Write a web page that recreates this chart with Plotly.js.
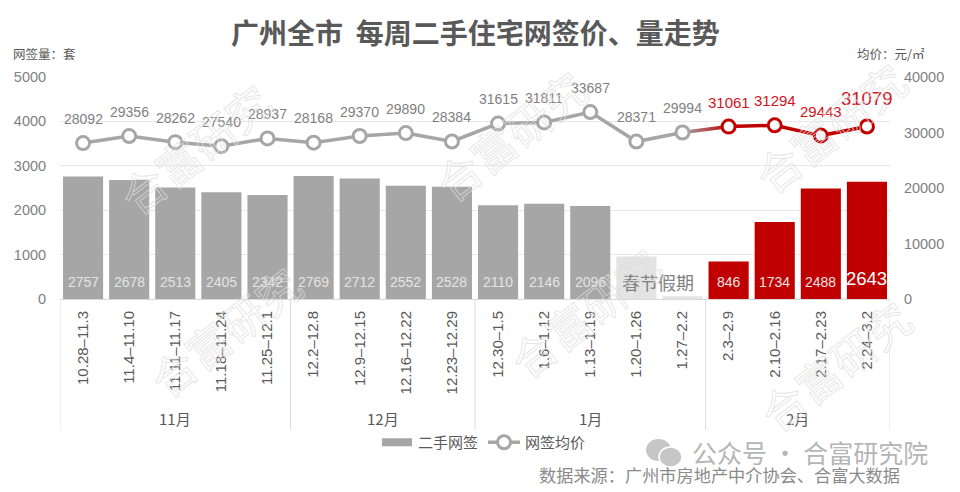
<!DOCTYPE html>
<html><head><meta charset="utf-8">
<script src="https://cdn.plot.ly/plotly-3.0.1.min.js"></script>
<style>html,body{margin:0;padding:0;background:#fff}#c{width:960px;height:492px}</style>
</head><body><div id="c"></div>
<script>
const weeks=["10.28–11.3","11.4–11.10","11.11–11.17","11.18–11.24","11.25–12.1","12.2–12.8","12.9–12.15","12.16–12.22","12.23–12.29","12.30–1.5","1.6–1.12","1.13–1.19","1.20–1.26","1.27–2.2","2.3–2.9","2.10–2.16","2.17–2.23","2.24–3.2"];
const volumes=[2757,2678,2513,2405,2342,2769,2712,2552,2528,2110,2146,2096,960,60,846,1734,2488,2643];
const volumeLabels=["2757","2678","2513","2405","2342","2769","2712","2552","2528","2110","2146","2096","","","846","1734","2488","2643"];
const prices=[28092,29356,28262,27540,28937,28168,29370,29890,28384,31615,31811,33687,28371,29994,31061,31294,29443,31079];
const months=["11月","12月","1月","2月"];
const monthSpans=[5,4,5,4];
const FONT='"Liberation Sans","Noto Sans CJK SC",sans-serif';
const CJK='"Noto Sans CJK SC","Liberation Sans",sans-serif';
const GRAY='#a6a6a6',RED='#c00000',LIGHT='#e4e4e4',TXT='#7f7f7f',DK='#595959';
const L=60,R=890,T=77,B=299;
const px=x=>(x-L)/(R-L), py=y=>(B-y)/(B-T);
const barColors=weeks.map((_,i)=>i>=14?RED:(i===12||i===13)?LIGHT:GRAY);
const split=13;
const traces=[
 {type:'bar',name:'二手网签',x:weeks,y:volumes,marker:{color:barColors},width:0.87,hoverinfo:'skip'},
 {type:'scatter',mode:'lines',x:weeks.slice(split,split+2),y:prices.slice(split,split+2),yaxis:'y2',line:{color:'#b5545a',width:3.5},showlegend:false,hoverinfo:'skip'},
 {type:'scatter',mode:'lines+markers',name:'网签均价',x:weeks.slice(0,split+1),y:prices.slice(0,split+1),yaxis:'y2',
  line:{color:GRAY,width:3.5},marker:{size:13,color:'#fff',line:{color:GRAY,width:3}},hoverinfo:'skip'},
 {type:'scatter',mode:'lines+markers',x:weeks.slice(split+1),y:prices.slice(split+1),yaxis:'y2',showlegend:false,
  line:{color:RED,width:3.5},marker:{size:13,color:'#fff',line:{color:RED,width:3}},hoverinfo:'skip'}
];
const ann=[];
prices.forEach((p,i)=>{
 const last=i===17, red=i>=14;
 ann.push({xref:'x',yref:'y2',x:weeks[i],y:p,yshift:last?28:24.5,text:String(p),showarrow:false,xanchor:'center',yanchor:'middle',
  font:{family:FONT,size:last?18.5:(red?15:14),color:red?'#d0141c':TXT}});
});
volumeLabels.forEach((t,i)=>{
 if(!t)return;
 const last=i===17;
 ann.push({xref:'x',yref:'y',x:weeks[i],y:0,yshift:last?21:17,text:t,showarrow:false,xanchor:'center',yanchor:'middle',
  font:{family:FONT,size:last?18.5:14,color:last?'#fff':'#e4e4e4'}});
});
const T0=(x,y,text,size,color,extra)=>Object.assign({xref:'paper',yref:'paper',x:px(x),y:py(y),text,showarrow:false,xanchor:'center',yanchor:'middle',font:{family:CJK,size,color}},extra||{});
ann.push(T0(658,282,'春节假期',18,TXT));
const shapes=[];
let pos=-0.5;
const divLine={color:'#dddddd',width:1};
shapes.push({type:'line',xref:'x',yref:'paper',x0:pos,x1:pos,y0:0,y1:py(430),line:divLine});
months.forEach((m,i)=>{
 const c=pos+monthSpans[i]/2; pos+=monthSpans[i];
 ann.push({xref:'x',yref:'paper',x:c,y:py(418),text:m,showarrow:false,xanchor:'center',yanchor:'middle',font:{family:CJK,size:15,color:DK}});
 shapes.push({type:'line',xref:'x',yref:'paper',x0:pos,x1:pos,y0:0,y1:py(430),line:divLine});
});
ann.push(T0(475,32,'<b>广州全市  每周二手住宅网签价、量走势</b>',28,DK));
ann.push(T0(44,53,'网签量：套',12.5,DK));
ann.push(T0(891,53,'均价：元/㎡',12.5,DK));
ann.push(T0(810,452,'公众号 · 合富研究院',25,'#b5b5b5'));
ann.push(T0(719,474,'数据来源：广州市房地产中介协会、合富大数据',17.2,'#8a8a8a'));
const WM='合富研究';
[[195,148],[225,331],[510,135],[585,312],[830,127],[835,365]].forEach(([x,y])=>{
 ann.push(T0(x,y,WM,44,'rgba(255,255,255,0)',{textangle:-38}));
});
shapes.push({type:'circle',xref:'paper',yref:'paper',x0:px(646),x1:px(671),y0:py(461),y1:py(439),fillcolor:'#c6c6c6',line:{width:0}});
shapes.push({type:'circle',xref:'paper',yref:'paper',x0:px(659),x1:px(682),y0:py(467),y1:py(447),fillcolor:'#c6c6c6',line:{color:'#fff',width:1.5}});
const layout={
 width:960,height:492,margin:{l:L,r:960-R,t:T,b:492-B},paper_bgcolor:'#fff',plot_bgcolor:'#fff',
 font:{family:FONT,color:TXT},showlegend:true,
 legend:{orientation:'h',x:px(376),y:py(426),xanchor:'left',yanchor:'top',font:{family:CJK,size:15,color:DK},itemwidth:32,tracegroupgap:0,bgcolor:'rgba(0,0,0,0)'},
 xaxis:{type:'category',categoryorder:'array',categoryarray:weeks,range:[-0.5,17.5],tickangle:-90,tickfont:{family:FONT,size:15,color:DK},
  ticks:'outside',ticklen:5,tickcolor:'rgba(0,0,0,0)',showline:true,linecolor:'#d9d9d9',linewidth:1,showgrid:false,automargin:false,zeroline:false},
 yaxis:{range:[0,5000],tickvals:[0,1000,2000,3000,4000,5000],tickformat:'d',tickfont:{size:14.5,color:TXT},gridcolor:'#e8e8e8',gridwidth:1,zeroline:false,
  ticks:'outside',ticklen:10,tickcolor:'rgba(0,0,0,0)',showline:false,automargin:false},
 yaxis2:{overlaying:'y',side:'right',range:[0,40000],tickvals:[0,10000,20000,30000,40000],tickformat:'d',tickfont:{size:14.5,color:TXT},showgrid:false,zeroline:false,
  ticks:'outside',ticklen:10,tickcolor:'rgba(0,0,0,0)',showline:false,automargin:false},
 bargap:0.13,annotations:ann,shapes
};
Plotly.newPlot('c',traces,layout,{displayModeBar:false,staticPlot:true}).then(()=>{
 const root=document.getElementById('c');
 const swatch=root.querySelector('.legend .traces .legendpoints path');
 if(swatch){swatch.setAttribute('d','M15,4H-15V-4H15Z');}
 const line=root.querySelector('.scatterlayer .trace path.js-line');
 const svg=root.querySelector('svg.main-svg');
 if(line&&svg){
  const ns='http://www.w3.org/2000/svg';
  const g=document.createElementNS(ns,'linearGradient');g.id='connGrad';
  [[0,GRAY],[1,RED]].forEach(([o,c])=>{const s=document.createElementNS(ns,'stop');s.setAttribute('offset',o);s.setAttribute('stop-color',c);g.appendChild(s);});
  let d=svg.querySelector('defs');if(!d){d=document.createElementNS(ns,'defs');svg.prepend(d);}
  d.appendChild(g);
  line.style.stroke='url(#connGrad)';
 }
 root.querySelectorAll('.annotation-text').forEach(t=>{
  if(t.textContent===WM){
   t.style.fill='none';t.style.stroke='rgba(222,222,222,0.75)';t.style.strokeWidth='1';
  }
 });
});
</script></body></html>
